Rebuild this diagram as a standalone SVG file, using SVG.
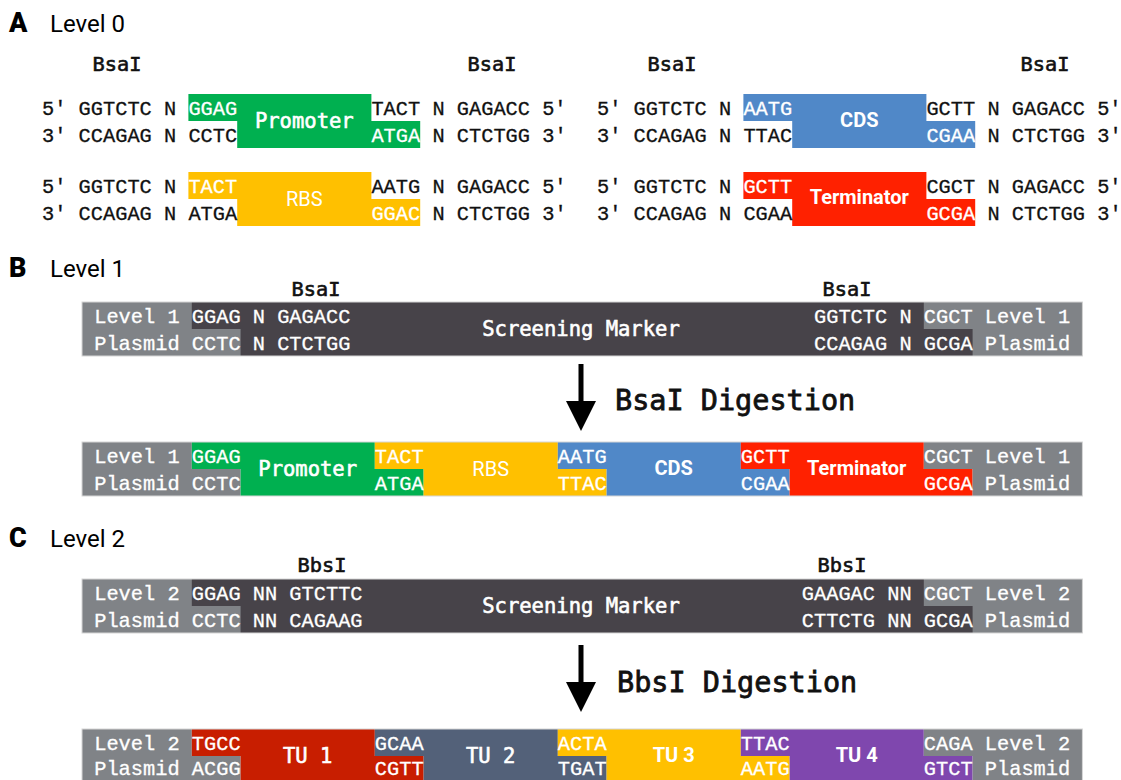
<svg xmlns="http://www.w3.org/2000/svg" width="1121" height="780" viewBox="0 0 1121 780">
<style>
.h{font-family:Roboto,"Liberation Sans",sans-serif;font-size:24px;fill:#000}
.hb{font-family:Roboto,"Liberation Sans",sans-serif;font-size:27px;font-weight:900;fill:#000}
.m{font-family:"Liberation Mono","DejaVu Sans Mono",monospace;font-size:20.33px;fill:#111;stroke:#111;stroke-width:0.3}
.w{fill:#fff;stroke:#fff}
.en{font-family:"DejaVu Sans Mono","Liberation Mono",monospace;font-size:20.3px;fill:#111;stroke:#111;stroke-width:0.6;text-anchor:middle}
.lm{font-family:"DejaVu Sans Mono","Liberation Mono",monospace;font-size:20.5px;fill:#fff;stroke:#fff;stroke-width:0.6;text-anchor:middle;dominant-baseline:central}
.ls{font-family:Roboto,"Liberation Sans",sans-serif;font-size:20px;fill:#fff;text-anchor:middle;dominant-baseline:central}
.lb{font-family:Roboto,"Liberation Sans",sans-serif;font-size:20px;font-weight:bold;fill:#fff;text-anchor:middle;dominant-baseline:central}
.dg{font-family:"DejaVu Sans Mono","Liberation Mono",monospace;font-size:28.5px;fill:#111;stroke:#111;stroke-width:0.8}
.g{fill:#808387}.d{fill:#474349}
.cg{fill:#00b050}.cy{fill:#ffc000}.cb{fill:#5088c8}.cr{fill:#ff2100}
.t1{fill:#c81e00}.t2{fill:#536179}.t4{fill:#7f47ae}
.bar{fill:none;stroke:#d6d6d6;stroke-width:1}
</style>

<!-- Section A -->
<g id="header-a">
<text class="hb" x="9" y="32">A</text>
<text class="h" x="50" y="32">Level 0</text>
<text class="en" x="117" y="71">BsaI</text>
<text class="en" x="492" y="71">BsaI</text>
<text class="en" x="672" y="71">BsaI</text>
<text class="en" x="1045" y="71">BsaI</text>
</g>

<g id="promoter-l0">
<rect class="cg" x="188.4" y="94" width="183" height="27"/>
<rect class="cg" x="237.2" y="121" width="183" height="27"/>
<text class="m" x="42" y="115">5' GGTCTC N</text>
<text class="m w" x="188.4" y="115">GGAG</text>
<text class="m" x="371.4" y="115">TACT N GAGACC 5'</text>
<text class="m" x="42" y="142">3' CCAGAG N CCTC</text>
<text class="m w" x="371.4" y="142">ATGA</text>
<text class="m" x="432.4" y="142">N CTCTGG 3'</text>
<text class="lm" x="304.3" y="121">Promoter</text>
</g>

<g id="cds-l0">
<rect class="cb" x="743.4" y="94" width="183" height="27"/>
<rect class="cb" x="792.2" y="121" width="183" height="27"/>
<text class="m" x="597" y="115">5' GGTCTC N</text>
<text class="m w" x="743.4" y="115">AATG</text>
<text class="m" x="926.4" y="115">GCTT N GAGACC 5'</text>
<text class="m" x="597" y="142">3' CCAGAG N TTAC</text>
<text class="m w" x="926.4" y="142">CGAA</text>
<text class="m" x="987.4" y="142">N CTCTGG 3'</text>
<text class="lb" x="859.3" y="120">CDS</text>
</g>

<g id="rbs-l0">
<rect class="cy" x="188.4" y="172" width="183" height="27"/>
<rect class="cy" x="237.2" y="199" width="183" height="27"/>
<text class="m" x="42" y="193">5' GGTCTC N</text>
<text class="m w" x="188.4" y="193">TACT</text>
<text class="m" x="371.4" y="193">AATG N GAGACC 5'</text>
<text class="m" x="42" y="220">3' CCAGAG N ATGA</text>
<text class="m w" x="371.4" y="220">GGAC</text>
<text class="m" x="432.4" y="220">N CTCTGG 3'</text>
<text class="ls" x="304.3" y="199">RBS</text>
</g>

<g id="terminator-l0">
<rect class="cr" x="743.4" y="172" width="183" height="27"/>
<rect class="cr" x="792.2" y="199" width="183" height="27"/>
<text class="m" x="597" y="193">5' GGTCTC N</text>
<text class="m w" x="743.4" y="193">GCTT</text>
<text class="m" x="926.4" y="193">CGCT N GAGACC 5'</text>
<text class="m" x="597" y="220">3' CCAGAG N CGAA</text>
<text class="m w" x="926.4" y="220">GCGA</text>
<text class="m" x="987.4" y="220">N CTCTGG 3'</text>
<text class="lb" x="859.3" y="197">Terminator</text>
</g>

<!-- Section B -->
<g id="header-b">
<text class="hb" x="9" y="277">B</text>
<text class="h" x="50" y="277">Level 1</text>
<text class="en" x="316" y="296">BsaI</text>
<text class="en" x="847" y="296">BsaI</text>
</g>

<g id="level1-plasmid">
<rect class="d" x="82" y="302" width="1000.4" height="54"/>
<rect class="g" x="82" y="302" width="109.8" height="27"/>
<rect class="g" x="82" y="329" width="158.6" height="27"/>
<rect class="g" x="923.8" y="302" width="158.6" height="27"/>
<rect class="g" x="972.6" y="329" width="109.8" height="27"/>
<rect class="bar" x="82" y="302" width="1000.4" height="54"/>
<text class="m w" x="94.2" y="322.5">Level 1 GGAG N GAGACC</text>
<text class="m w" x="94.2" y="349.5">Plasmid CCTC N CTCTGG</text>
<text class="m w" x="814" y="322.5">GGTCTC N CGCT Level 1</text>
<text class="m w" x="814" y="349.5">CCAGAG N GCGA Plasmid</text>
<text class="lm" x="581" y="329">Screening Marker</text>
</g>

<g id="level1-assembled">
<rect class="g" x="82" y="442" width="109.8" height="27"/>
<rect class="g" x="82" y="469" width="158.6" height="27"/>
<rect class="cg" x="191.8" y="442" width="183" height="27"/>
<rect class="cg" x="240.6" y="469" width="183" height="27"/>
<rect class="cy" x="374.8" y="442" width="183" height="27"/>
<rect class="cy" x="423.6" y="469" width="183" height="27"/>
<rect class="cb" x="557.8" y="442" width="183" height="27"/>
<rect class="cb" x="606.6" y="469" width="183" height="27"/>
<rect class="cr" x="740.8" y="442" width="183" height="27"/>
<rect class="cr" x="789.6" y="469" width="183" height="27"/>
<rect class="g" x="923.8" y="442" width="158.6" height="27"/>
<rect class="g" x="972.6" y="469" width="109.8" height="27"/>
<rect class="bar" x="82" y="442" width="1000.4" height="54"/>
<text class="m w" x="94.2" y="462.5">Level 1 GGAG</text>
<text class="m w" x="94.2" y="489.5">Plasmid CCTC</text>
<text class="m w" x="374.8" y="462.5">TACT</text>
<text class="m w" x="374.8" y="489.5">ATGA</text>
<text class="m w" x="557.8" y="462.5">AATG</text>
<text class="m w" x="557.8" y="489.5">TTAC</text>
<text class="m w" x="740.8" y="462.5">GCTT</text>
<text class="m w" x="740.8" y="489.5">CGAA</text>
<text class="m w" x="923.8" y="462.5">CGCT Level 1</text>
<text class="m w" x="923.8" y="489.5">GCGA Plasmid</text>
<text class="lm" x="307.7" y="469">Promoter</text>
<text class="ls" x="490.7" y="469">RBS</text>
<text class="lb" x="673.7" y="468">CDS</text>
<text class="lb" x="856.7" y="468">Terminator</text>
</g>

<!-- Section C -->
<g id="header-c">
<text class="hb" x="9" y="547">C</text>
<text class="h" x="50" y="547">Level 2</text>
<text class="en" x="322" y="572">BbsI</text>
<text class="en" x="842" y="572">BbsI</text>
</g>

<g id="level2-plasmid">
<rect class="d" x="82" y="579" width="1000.4" height="54"/>
<rect class="g" x="82" y="579" width="109.8" height="27"/>
<rect class="g" x="82" y="606" width="158.6" height="27"/>
<rect class="g" x="923.8" y="579" width="158.6" height="27"/>
<rect class="g" x="972.6" y="606" width="109.8" height="27"/>
<rect class="bar" x="82" y="579" width="1000.4" height="54"/>
<text class="m w" x="94.2" y="599.5">Level 2 GGAG NN GTCTTC</text>
<text class="m w" x="94.2" y="626.5">Plasmid CCTC NN CAGAAG</text>
<text class="m w" x="801.8" y="599.5">GAAGAC NN CGCT Level 2</text>
<text class="m w" x="801.8" y="626.5">CTTCTG NN GCGA Plasmid</text>
<text class="lm" x="581" y="606">Screening Marker</text>
</g>

<g id="level2-assembled">
<rect class="g" x="82" y="729" width="109.8" height="27"/>
<rect class="g" x="82" y="756" width="158.6" height="27"/>
<rect class="t1" x="191.8" y="729" width="183" height="27"/>
<rect class="t1" x="240.6" y="756" width="183" height="27"/>
<rect class="t2" x="374.8" y="729" width="183" height="27"/>
<rect class="t2" x="423.6" y="756" width="183" height="27"/>
<rect class="cy" x="557.8" y="729" width="183" height="27"/>
<rect class="cy" x="606.6" y="756" width="183" height="27"/>
<rect class="t4" x="740.8" y="729" width="183" height="27"/>
<rect class="t4" x="789.6" y="756" width="183" height="27"/>
<rect class="g" x="923.8" y="729" width="158.6" height="27"/>
<rect class="g" x="972.6" y="756" width="109.8" height="27"/>
<rect class="bar" x="82" y="729" width="1000.4" height="54"/>
<text class="m w" x="94.2" y="749.5">Level 2 TGCC</text>
<text class="m w" x="94.2" y="775">Plasmid ACGG</text>
<text class="m w" x="374.8" y="749.5">GCAA</text>
<text class="m w" x="374.8" y="775">CGTT</text>
<text class="m w" x="557.8" y="749.5">ACTA</text>
<text class="m w" x="557.8" y="775">TGAT</text>
<text class="m w" x="740.8" y="749.5">TTAC</text>
<text class="m w" x="740.8" y="775">AATG</text>
<text class="m w" x="923.8" y="749.5">CAGA Level 2</text>
<text class="m w" x="923.8" y="775">GTCT Plasmid</text>
<text class="lm" x="307.7" y="756">TU 1</text>
<text class="lm" x="490.7" y="756">TU 2</text>
<text class="lb" x="673.7" y="755">TU 3</text>
<text class="lb" x="856.7" y="755">TU 4</text>
</g>

<g id="connectors">
<rect x="578.5" y="364" width="5" height="40" fill="#000"/>
<polygon points="566,401 596,401 581,431" fill="#000"/>
<text class="dg" x="615" y="410">BsaI Digestion</text>
<rect x="578.5" y="645" width="5" height="40" fill="#000"/>
<polygon points="566,682 596,682 581,712" fill="#000"/>
<text class="dg" x="617" y="692">BbsI Digestion</text>
</g>
</svg>
